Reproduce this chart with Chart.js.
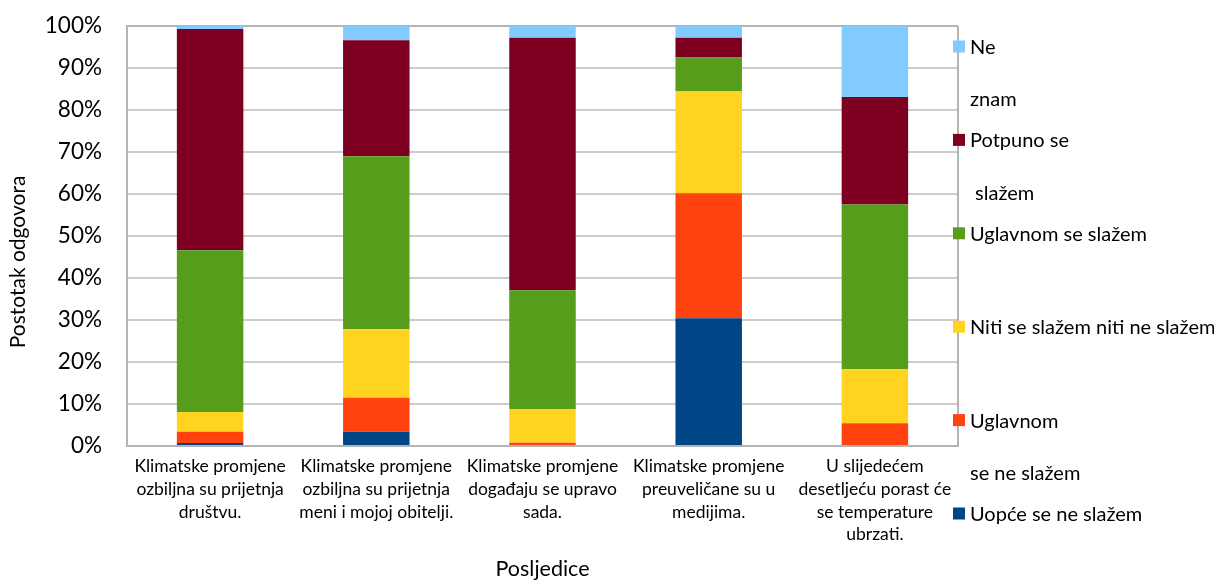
<!DOCTYPE html>
<html>
<head>
<meta charset="utf-8">
<script src="https://cdn.jsdelivr.net/npm/chart.js@4/dist/chart.umd.min.js"></script>
<style>
  html, body { margin: 0; padding: 0; background: #fff; }
  canvas { display: block; }
</style>
</head>
<body>
<canvas id="chart" width="1214" height="580"></canvas>
<script>
// Statements about climate change (x categories)
const categories = [
  ['Klimatske promjene', 'ozbiljna su prijetnja', 'društvu.'],
  ['Klimatske promjene', 'ozbiljna su prijetnja', 'meni i mojoj obitelji.'],
  ['Klimatske promjene', 'događaju se upravo', 'sada.'],
  ['Klimatske promjene', 'preuveličane su u', 'medijima.'],
  ['U slijedećem', 'desetljeću porast će', 'se temperature', 'ubrzati.']
];

// Share of answers per statement, in percent (stacked bottom to top)
const uopceSeNeSlazem    = [0.7, 3.4, 0.0, 30.4, 0.0];
const uglavnomSeNeSlazem = [2.7, 8.1, 0.8, 29.8, 5.4];
const nitiNiti           = [4.7, 16.3, 8.0, 24.3, 12.9];
const uglavnomSeSlazem   = [38.5, 41.2, 28.3, 8.0, 39.2];
const potpunoSeSlazem    = [52.7, 27.6, 60.1, 4.7, 25.6];
const neZnam             = [0.7, 3.4, 2.8, 2.8, 16.9];

// Answer labels as they wrap in the legend
const seriesNames = [
  ['Uopće se ne slažem'],
  ['Uglavnom', 'se ne slažem'],
  ['Niti se slažem niti ne slažem'],
  ['Uglavnom se slažem'],
  ['Potpuno se', ' slažem'],
  ['Ne', 'znam']
];

const yTicks = [0, 10, 20, 30, 40, 50, 60, 70, 80, 90, 100];
const yTitle = 'Postotak odgovora';
const xTitle = 'Posljedice';

const FONT = 'Lato, "Open Sans", sans-serif';
const colors = ['#004586', '#ff420e', '#ffd320', '#579d1c', '#7e0021', '#83caff'];
const seriesValues = [uopceSeNeSlazem, uglavnomSeNeSlazem, nitiNiti, uglavnomSeSlazem, potpunoSeSlazem, neZnam];

// Side legend (top entry = last series) plus frame and y title
const sideLegend = {
  id: 'sideLegend',
  afterDraw(chart, args, opts) {
    const ctx = chart.ctx;
    const area = chart.chartArea;
    ctx.save();
    // right frame line
    ctx.strokeStyle = '#b4b4b4';
    ctx.lineWidth = 2;
    ctx.beginPath();
    ctx.moveTo(area.right, area.top);
    ctx.lineTo(area.right, area.bottom);
    ctx.stroke();

    // y axis title
    ctx.fillStyle = '#000';
    ctx.font = opts.titleFont;
    ctx.textAlign = 'center';
    ctx.textBaseline = 'middle';
    ctx.translate(opts.titleX, opts.titleY);
    ctx.rotate(-Math.PI / 2);
    ctx.fillText(yTitle, 0, 0);
    ctx.setTransform(1, 0, 0, 1, 0, 0);

    // legend entries
    ctx.font = opts.font;
    ctx.textAlign = 'left';
    const ds = chart.data.datasets;
    for (let i = 0; i < ds.length; i++) {
      const d = ds[ds.length - 1 - i];
      const y = opts.top + i * opts.step;
      ctx.fillStyle = d.backgroundColor;
      ctx.fillRect(opts.boxX, y - opts.box / 2, opts.box, opts.box);
      ctx.fillStyle = '#000';
      d.legendLines.forEach((line, k) => {
        ctx.fillText(line, opts.textX, y + k * opts.lineGap + 1);
      });
    }
    ctx.restore();
  }
};

new Chart(document.getElementById('chart'), {
  type: 'bar',
  data: {
    labels: categories,
    datasets: seriesValues.map((vals, i) => ({
      label: seriesNames[i].join(' ').replace(/\s+/g, ' ').trim(),
      legendLines: seriesNames[i],
      data: vals,
      backgroundColor: colors[i],
      borderWidth: 0,
      categoryPercentage: 0.8,
      barPercentage: 0.5
    }))
  },
  options: {
    responsive: false,
    animation: false,
    layout: { padding: { top: 26, right: 256, bottom: 0, left: 0 } },
    plugins: {
      legend: { display: false },
      tooltip: { enabled: false },
      sideLegend: {
        font: '20px ' + FONT,
        titleFont: '21px ' + FONT,
        titleX: 18, titleY: 262,
        top: 46.5, step: 93.4, lineGap: 52.5,
        boxX: 953, box: 12, textX: 970
      }
    },
    scales: {
      x: {
        stacked: true,
        grid: { display: false, drawTicks: false },
        border: { color: '#b4b4b4', width: 2 },
        ticks: {
          color: '#000',
          font: { family: FONT, size: 17.5, lineHeight: 1.3 },
          padding: 9,
          maxRotation: 0,
          autoSkip: false
        },
        title: {
          display: true,
          text: xTitle,
          color: '#000',
          font: { family: FONT, size: 21.5, lineHeight: 1 },
          padding: { top: 0, bottom: 0 }
        },
        afterFit(scale) { scale.height = 134; }
      },
      y: {
        stacked: true,
        min: 0,
        max: 100,
        afterBuildTicks(scale) { scale.ticks = yTicks.map(v => ({ value: v })); },
        grid: {
          color: c => (c.tick && c.tick.value === 100 ? '#b4b4b4' : '#cccccc'),
          lineWidth: 2,
          drawTicks: true,
          tickLength: 25,
          tickColor: 'rgba(0,0,0,0)'
        },
        border: { color: '#b4b4b4', width: 2 },
        ticks: {
          color: '#000',
          font: { family: FONT, size: 22.5 },
          padding: 0,
          callback: v => v + '%'
        },
        title: { display: false },
        afterFit(scale) { scale.width = 127; }
      }
    }
  },
  plugins: [sideLegend]
});
</script>
</body>
</html>
